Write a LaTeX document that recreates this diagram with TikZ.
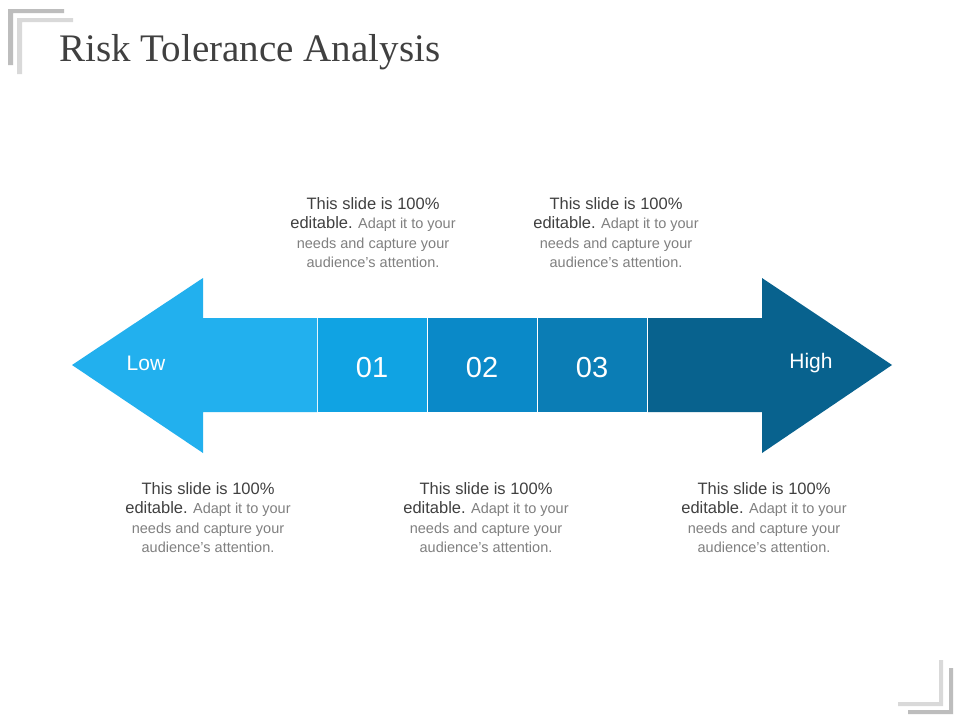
\documentclass[tikz,border=0pt]{standalone}
\usepackage{fontspec}
\setmainfont{Liberation Sans}
\newfontfamily\titlefont{Liberation Serif}
\begin{document}
\begin{tikzpicture}[x=1pt,y=-1pt,
  lbl/.style={text=white,font=\fontsize{21}{24}\selectfont},
  num/.style={text=white,font=\fontsize{29}{32}\selectfont},
  desc/.style={align=center,font=\fontsize{14.5}{19.5}\selectfont,text=black!50,anchor=north}]
\definecolor{dk}{HTML}{404040}
\useasboundingbox[fill=white] (0,0) rectangle (960,720);
% brackets
\fill[black!26] (8,9) rectangle (64,13) (8,9) rectangle (13,65);
\fill[black!15] (17,18) rectangle (73,22) (17,18) rectangle (22,74);
\fill[black!15] (939,660) rectangle (943,706) (898,702) rectangle (943,706);
\fill[black!26] (949,668) rectangle (953,714) (908,710) rectangle (953,714);
\node[anchor=west,text=dk,font=\titlefont\fontsize{39}{42}\selectfont] (title) at (56,52) {Risk Tolerance Analysis};
% arrow
\fill[fill={rgb,255:red,34;green,176;blue,238}] (72,365) -- (203,278) -- (203,318) -- (317,318) -- (317,412) -- (203,412) -- (203,453) -- cycle;
\fill[fill={rgb,255:red,16;green,163;blue,227}] (318,318) rectangle (427,412);
\fill[fill={rgb,255:red,10;green,137;blue,200}] (428,318) rectangle (537,412);
\fill[fill={rgb,255:red,11;green,125;blue,181}] (538,318) rectangle (647,412);
\fill[fill={rgb,255:red,8;green,98;blue,142}] (648,318) -- (762,318) -- (762,278) -- (892,365) -- (762,453) -- (762,412) -- (648,412) -- cycle;
\node[lbl] (low) at (146,363) {Low};
\node[lbl] (high) at (811,363) {High};
\node[num] (n1) at (372,368) {01};
\node[num] (n2) at (482,368) {02};
\node[num] (n3) at (592,368) {03};
\newcommand\dtext{{\color{dk}\fontsize{16.5}{19.5}\selectfont This slide is 100\%}\\{\color{dk}\fontsize{16.5}{19.5}\selectfont editable.} Adapt it to your\\needs and capture your\\audience's attention.}
\node[desc] (t1) at (373,194) {\dtext};
\node[desc] (t2) at (616,194) {\dtext};
\node[desc] (b1) at (208,479) {\dtext};
\node[desc] (b2) at (486,479) {\dtext};
\node[desc] (b3) at (764,479) {\dtext};
\end{tikzpicture}
\end{document}
